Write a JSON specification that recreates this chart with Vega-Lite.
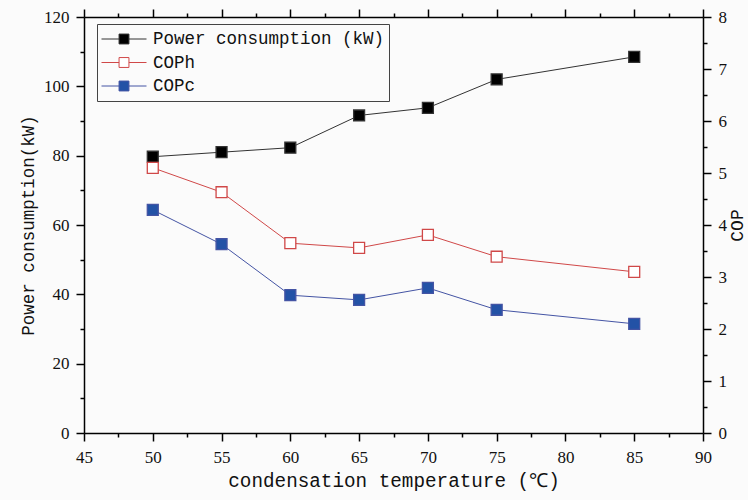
{
  "$schema": "https://vega.github.io/schema/vega-lite/v6.json",
  "width": 619,
  "height": 416,
  "autosize": {"type": "none"},
  "padding": {"left": 84, "top": 17, "right": 45, "bottom": 67},
  "background": "#fbfbfb",
  "data": {
    "values": [
      {"T": 50, "series": "Power consumption (kW)", "v": 79.7},
      {"T": 55, "series": "Power consumption (kW)", "v": 81.0},
      {"T": 60, "series": "Power consumption (kW)", "v": 82.3},
      {"T": 65, "series": "Power consumption (kW)", "v": 91.6},
      {"T": 70, "series": "Power consumption (kW)", "v": 93.8},
      {"T": 75, "series": "Power consumption (kW)", "v": 102.0},
      {"T": 85, "series": "Power consumption (kW)", "v": 108.5},
      {"T": 50, "series": "COPh", "v": 5.10},
      {"T": 55, "series": "COPh", "v": 4.63},
      {"T": 60, "series": "COPh", "v": 3.65},
      {"T": 65, "series": "COPh", "v": 3.56},
      {"T": 70, "series": "COPh", "v": 3.81},
      {"T": 75, "series": "COPh", "v": 3.39},
      {"T": 85, "series": "COPh", "v": 3.10},
      {"T": 50, "series": "COPc", "v": 4.29},
      {"T": 55, "series": "COPc", "v": 3.63},
      {"T": 60, "series": "COPc", "v": 2.65},
      {"T": 65, "series": "COPc", "v": 2.56},
      {"T": 70, "series": "COPc", "v": 2.79},
      {"T": 75, "series": "COPc", "v": 2.37},
      {"T": 85, "series": "COPc", "v": 2.10}
    ]
  },
  "config": {
    "view": {"stroke": null},
    "axis": {
      "domainColor": "black",
      "domainWidth": 1.5,
      "tickColor": "black",
      "tickWidth": 1.5,
      "grid": false,
      "labelFont": "Liberation Serif",
      "labelFontSize": 17,
      "labelColor": "#111",
      "titleFont": "Liberation Mono",
      "titleFontWeight": "normal",
      "titleColor": "#111",
      "labelOverlap": false,
      "labelFlush": false
    },
    "legend": {
      "orient": "none",
      "legendX": 13,
      "legendY": 7,
      "symbolSize": 2025,
      "symbolStrokeWidth": 1,
      "symbolOpacity": 1,
      "labelFont": "Liberation Mono",
      "labelFontSize": 17.5,
      "labelColor": "#111",
      "labelOffset": 6,
      "labelLimit": 400,
      "strokeColor": "#444",
      "padding": 4,
      "clipHeight": 22,
      "rowPadding": 1.5
    }
  },
  "layer": [
    {
      "transform": [{"filter": "datum.series === 'Power consumption (kW)'"}],
      "encoding": {
        "x": {
          "field": "T",
          "type": "quantitative",
          "scale": {"domain": [45, 90], "nice": false, "zero": false},
          "axis": {
            "orient": "bottom",
            "values": [45, 47.5, 50, 52.5, 55, 57.5, 60, 62.5, 65, 67.5, 70, 72.5, 75, 77.5, 80, 82.5, 85, 87.5, 90],
            "labelExpr": "datum.value % 5 === 0 ? datum.label : ''",
            "tickSize": {"condition": {"test": "datum.value % 5 === 0", "value": 8}, "value": 4},
            "labelPadding": 8,
            "title": "condensation temperature (℃)",
            "titleFontSize": 19.3,
            "titlePadding": 6
          }
        },
        "y": {
          "field": "v",
          "type": "quantitative",
          "scale": {"domain": [0, 120], "nice": false},
          "axis": {
            "orient": "left",
            "values": [0, 10, 20, 30, 40, 50, 60, 70, 80, 90, 100, 110, 120],
            "labelExpr": "datum.value % 20 === 0 ? datum.label : ''",
            "tickSize": {"condition": {"test": "datum.value % 20 === 0", "value": 8}, "value": 4},
            "labelPadding": 7,
            "title": "Power consumption(kW)",
            "titleFontSize": 17.5,
            "titlePadding": 6
          }
        }
      },
      "layer": [
        {
          "mark": {"type": "line", "strokeWidth": 1},
          "encoding": {
            "stroke": {
              "field": "series",
              "type": "nominal",
              "title": null,
              "scale": {"domain": ["Power consumption (kW)", "COPh", "COPc"], "range": ["#333333", "#d04848", "#4454a4"]}
            }
          }
        },
        {
          "mark": {"type": "point", "shape": "square", "size": 120, "filled": true, "opacity": 1, "strokeWidth": 1.3},
          "encoding": {
            "fill": {
              "field": "series",
              "type": "nominal",
              "title": null,
              "scale": {"domain": ["Power consumption (kW)", "COPh", "COPc"], "range": ["#000000", "#ffffff", "#2352a6"]},
              "legend": {
                "encode": {"symbols": {"update": {"shape": {"value": "M-1,0H-0.22M0.22,0H1M-0.22,-0.22H0.22V0.22H-0.22Z"}, "size": {"value": 2025}, "strokeWidth": {"value": 1}}}}
              }
            },
            "stroke": {
              "field": "series",
              "type": "nominal",
              "title": null,
              "scale": {"domain": ["Power consumption (kW)", "COPh", "COPc"], "range": ["#333333", "#d04848", "#4454a4"]}
            }
          }
        }
      ]
    },
    {
      "transform": [{"filter": "datum.series !== 'Power consumption (kW)'"}],
      "encoding": {
        "x": {
          "field": "T",
          "type": "quantitative",
          "scale": {"domain": [45, 90], "nice": false, "zero": false},
          "axis": {
            "orient": "top",
            "values": [45, 47.5, 50, 52.5, 55, 57.5, 60, 62.5, 65, 67.5, 70, 72.5, 75, 77.5, 80, 82.5, 85, 87.5, 90],
            "labels": false,
            "tickSize": {"condition": {"test": "datum.value % 5 === 0", "value": 8}, "value": 4},
            "title": null
          }
        },
        "y": {
          "field": "v",
          "type": "quantitative",
          "scale": {"domain": [0, 8], "nice": false},
          "axis": {
            "orient": "right",
            "values": [0, 0.5, 1, 1.5, 2, 2.5, 3, 3.5, 4, 4.5, 5, 5.5, 6, 6.5, 7, 7.5, 8],
            "labelExpr": "datum.value % 1 === 0 ? format(datum.value, 'd') : ''",
            "tickSize": {"condition": {"test": "datum.value % 1 === 0", "value": 8}, "value": 4},
            "labelPadding": 7,
            "title": "COP",
            "titleFontSize": 18,
            "titleAngle": -90,
            "titleBaseline": "top",
            "titlePadding": 2
          }
        }
      },
      "layer": [
        {
          "mark": {"type": "line", "strokeWidth": 1},
          "encoding": {
            "stroke": {
              "field": "series",
              "type": "nominal",
              "title": null,
              "scale": {"domain": ["Power consumption (kW)", "COPh", "COPc"], "range": ["#333333", "#d04848", "#4454a4"]}
            }
          }
        },
        {
          "mark": {"type": "point", "shape": "square", "size": 120, "filled": true, "opacity": 1, "strokeWidth": 1.3},
          "encoding": {
            "fill": {
              "field": "series",
              "type": "nominal",
              "title": null,
              "scale": {"domain": ["Power consumption (kW)", "COPh", "COPc"], "range": ["#000000", "#ffffff", "#2352a6"]}
            },
            "stroke": {
              "field": "series",
              "type": "nominal",
              "title": null,
              "scale": {"domain": ["Power consumption (kW)", "COPh", "COPc"], "range": ["#333333", "#d04848", "#4454a4"]}
            }
          }
        }
      ]
    }
  ],
  "resolve": {"scale": {"x": "independent", "y": "independent"}}
}
